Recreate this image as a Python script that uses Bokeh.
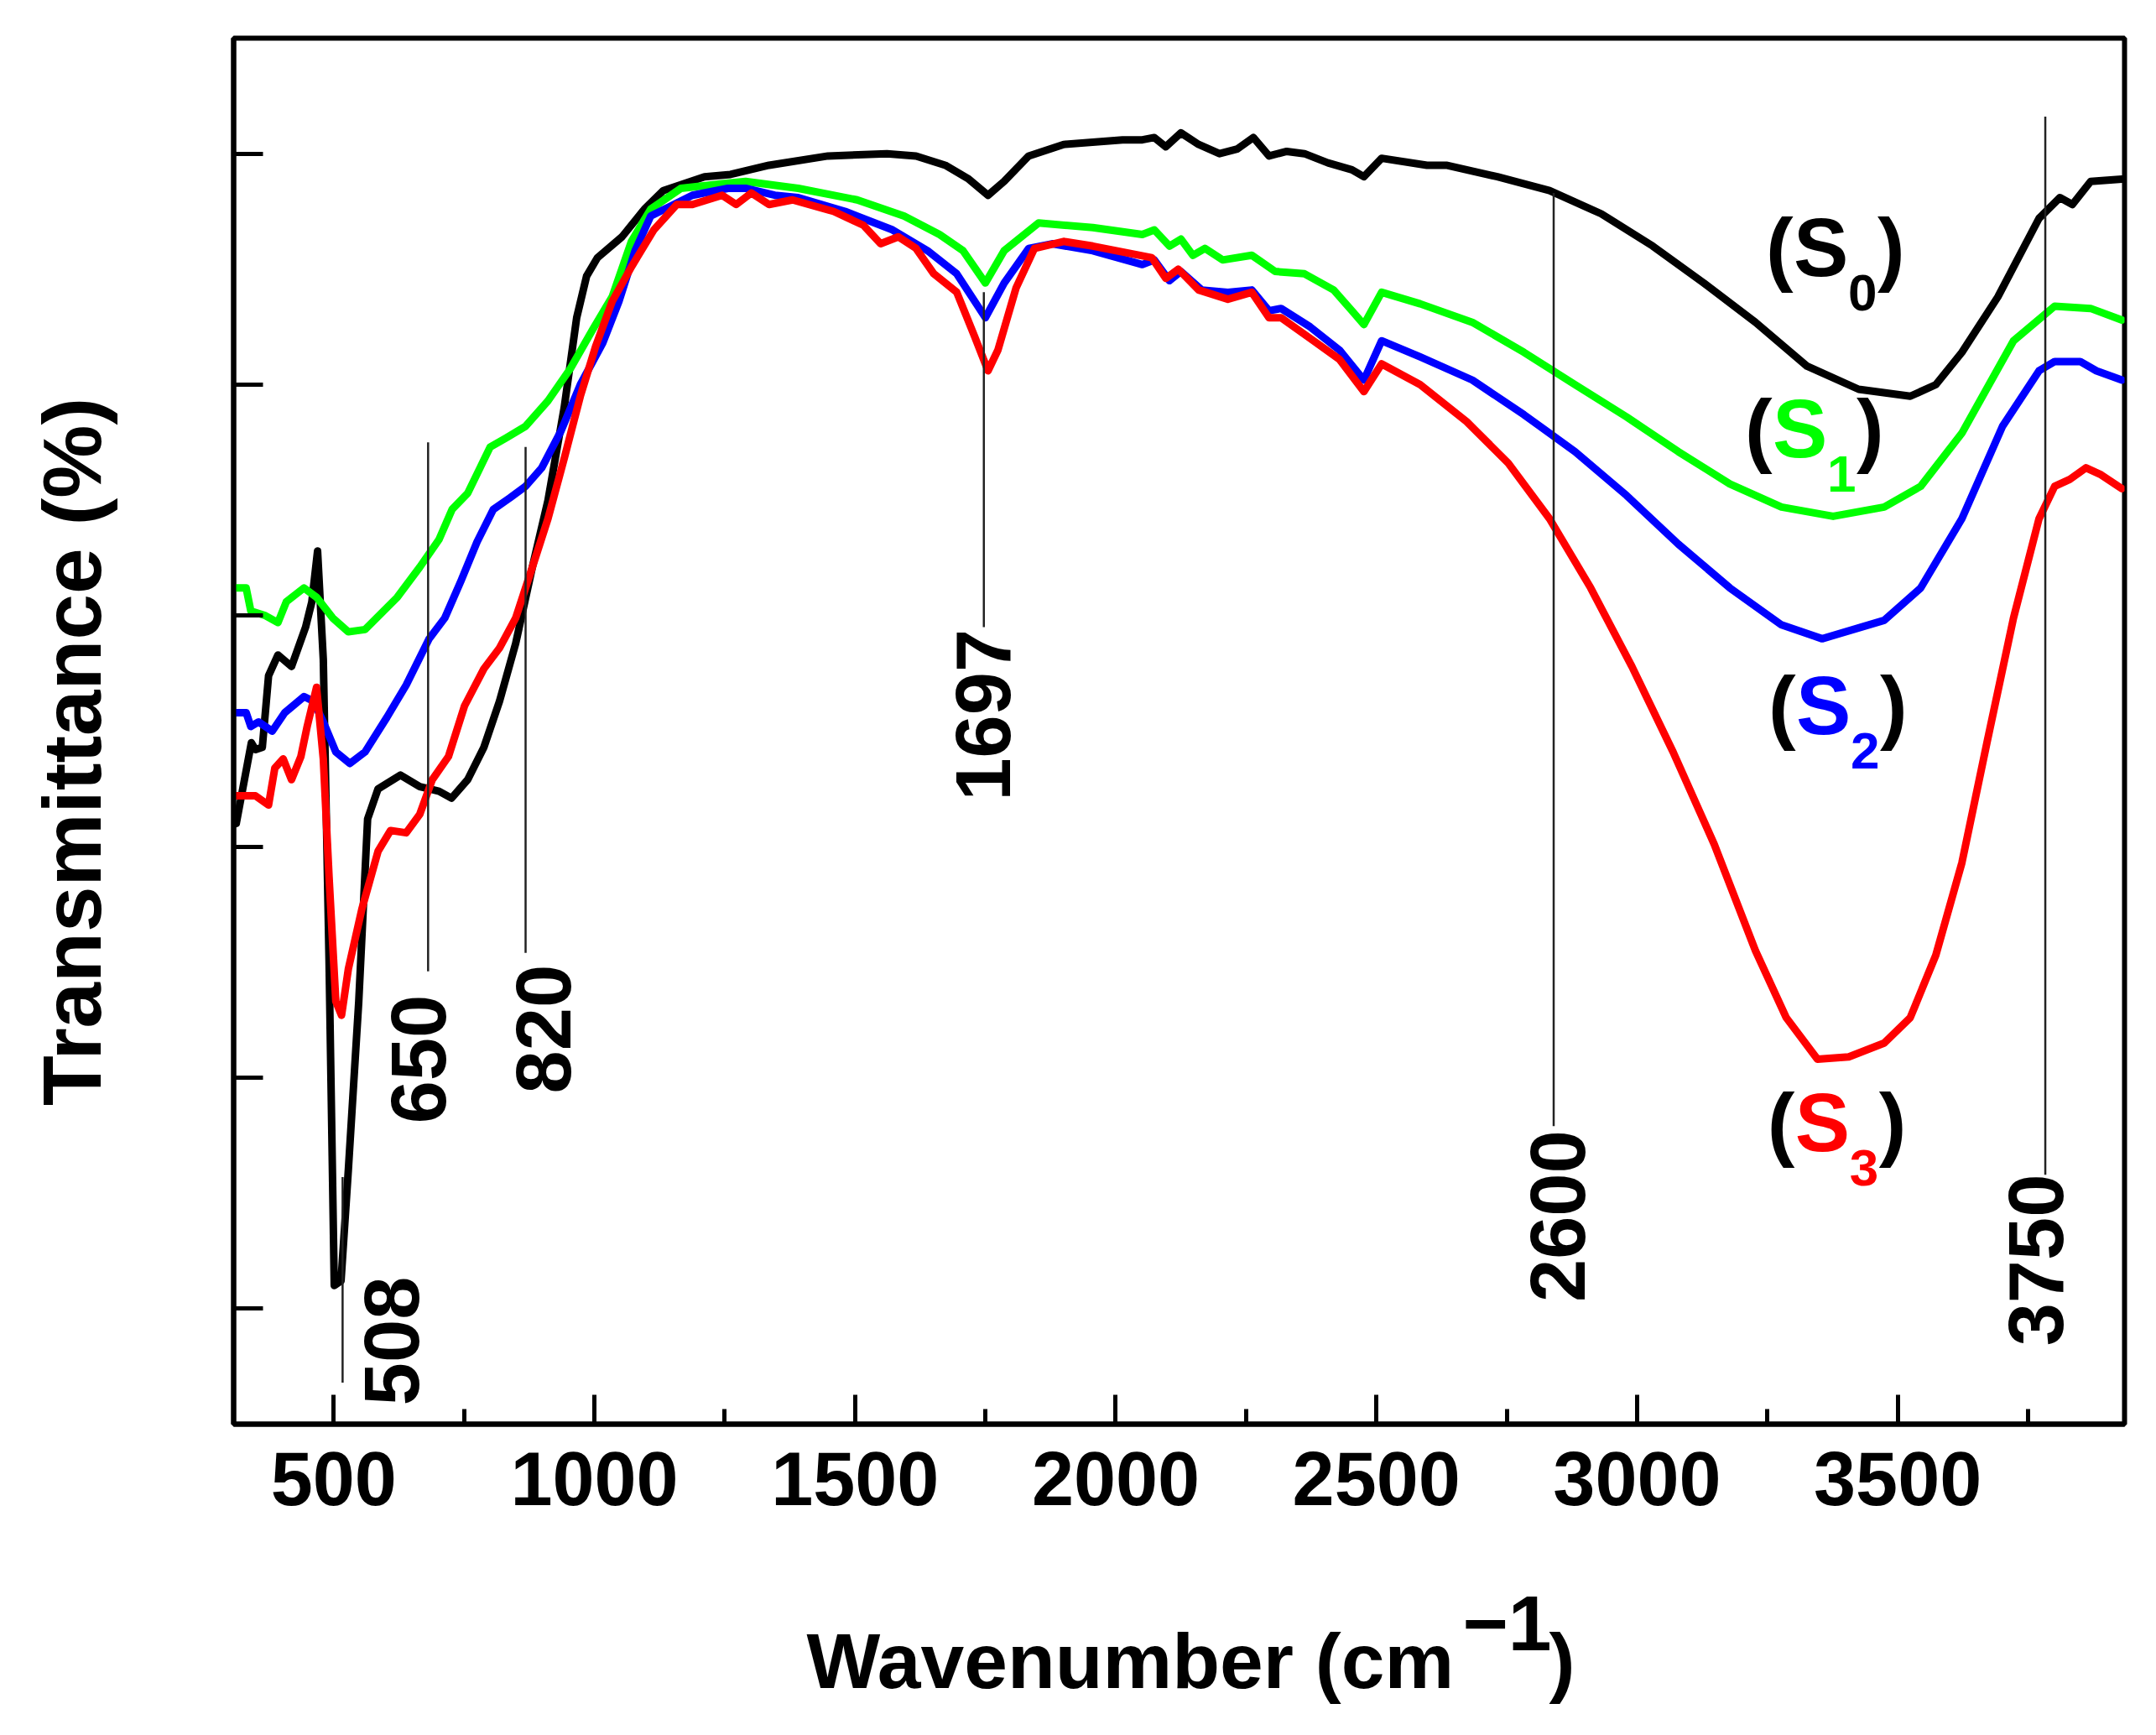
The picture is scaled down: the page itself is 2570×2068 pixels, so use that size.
import numpy as np

from bokeh.plotting import figure
from bokeh.layouts import column
from bokeh.models import Range1d, FixedTicker, ColumnDataSource
from bokeh.core.properties import value
from bokeh.embed import file_html
from bokeh.resources import INLINE

FONT = "Liberation Sans"

#- FTIR spectra (wavenumber in cm-1, transmittance in arbitrary units)
s0_wn = [313, 342, 350, 363, 375, 393, 419, 446, 458, 469, 480, 491, 501, 514, 528, 548,
         565, 585, 628, 665, 702, 726, 757, 788, 818, 849, 881, 911, 942, 966, 985, 1006,
         1053, 1096, 1132, 1211, 1261, 1335, 1448, 1561, 1617, 1673, 1718, 1755, 1786, 1833,
         1900, 2013, 2051, 2074, 2096, 2125, 2159, 2199, 2233, 2264, 2294, 2328, 2362, 2407,
         2453, 2476, 2510, 2597, 2634, 2732, 2832, 2931, 3030, 3128, 3227, 3326, 3425, 3524,
         3573, 3623, 3692, 3771, 3811, 3835, 3870, 3930]
s0_t = [3.10, 3.45, 3.42, 3.43, 3.74, 3.83, 3.78, 3.95, 4.06, 4.28, 3.81, 2.51, 1.10, 1.12, 1.60, 2.33,
        3.12, 3.25, 3.31, 3.26, 3.24, 3.21, 3.29, 3.43, 3.63, 3.88, 4.21, 4.50, 4.90, 5.29, 5.47, 5.55,
        5.64, 5.76, 5.84, 5.90, 5.91, 5.95, 5.99, 6.00, 5.99, 5.95, 5.89, 5.82, 5.88, 5.99,
        6.04, 6.06, 6.06, 6.07, 6.03, 6.09, 6.04, 6.00, 6.02, 6.07, 5.99, 6.01, 6.00, 5.96,
        5.93, 5.90, 5.98, 5.95, 5.95, 5.90, 5.84, 5.74, 5.60, 5.44, 5.27, 5.08, 4.98, 4.95,
        5.00, 5.14, 5.38, 5.72, 5.81, 5.78, 5.88, 5.89]

s1_wn = [311, 332, 341, 369, 393, 409, 443, 467, 498, 528, 560, 591, 622, 665, 702, 727,
         757, 800, 831, 868, 911, 954, 997, 1034, 1071, 1108, 1166, 1245, 1290, 1391, 1504, 1594,
         1662, 1707, 1750, 1786, 1852, 1956, 2051, 2074, 2103, 2125, 2148, 2171, 2205, 2261,
         2306, 2362, 2418, 2453, 2476, 2510, 2584, 2684, 2783, 2881, 2980, 3079, 3178, 3277,
         3376, 3474, 3544, 3623, 3722, 3801, 3870, 3930]
s1_t = [4.12, 4.12, 4.02, 4.00, 3.97, 4.06, 4.12, 4.08, 3.99, 3.93, 3.94, 4.01, 4.08, 4.21, 4.33, 4.46,
        4.53, 4.73, 4.77, 4.82, 4.93, 5.07, 5.24, 5.38, 5.62, 5.76, 5.85, 5.87, 5.88, 5.85, 5.80, 5.73,
        5.65, 5.58, 5.44, 5.58, 5.70, 5.68, 5.65, 5.67, 5.60, 5.63, 5.56, 5.59, 5.54, 5.56,
        5.49, 5.48, 5.41, 5.32, 5.26, 5.40, 5.35, 5.27, 5.14, 5.00, 4.86, 4.71, 4.57, 4.47,
        4.43, 4.47, 4.56, 4.79, 5.19, 5.34, 5.33, 5.28]

s2_wn = [311, 332, 341, 356, 382, 406, 443, 461, 480, 504, 531, 560, 602, 639, 683, 713,
         744, 775, 806, 838, 868, 899, 936, 973, 1016, 1047, 1078, 1108, 1188, 1256, 1290, 1346,
         1391, 1481, 1572, 1639, 1695, 1750, 1786, 1833, 1878, 1956, 2051, 2074, 2103, 2125,
         2165, 2215, 2261, 2294, 2317, 2373, 2429, 2476, 2510, 2584, 2684, 2783, 2881, 2980,
         3079, 3178, 3277, 3355, 3474, 3544, 3623, 3701, 3771, 3801, 3850, 3881, 3930]
s2_t = [3.58, 3.58, 3.52, 3.54, 3.50, 3.58, 3.65, 3.63, 3.54, 3.41, 3.36, 3.41, 3.56, 3.70, 3.90, 3.99,
        4.15, 4.32, 4.46, 4.51, 4.56, 4.64, 4.80, 5.00, 5.18, 5.36, 5.58, 5.73, 5.82, 5.85, 5.85, 5.82,
        5.81, 5.75, 5.67, 5.58, 5.48, 5.29, 5.44, 5.59, 5.61, 5.58, 5.52, 5.54, 5.45, 5.49,
        5.41, 5.40, 5.41, 5.32, 5.33, 5.25, 5.15, 5.02, 5.19, 5.12, 5.02, 4.87, 4.71, 4.52,
        4.31, 4.12, 3.96, 3.90, 3.98, 4.12, 4.42, 4.82, 5.06, 5.10, 5.10, 5.06, 5.02]

s3_wn = [311, 350, 375, 387, 403, 419, 437, 449, 467, 480, 491, 504, 515, 528, 554, 585,
         609, 639, 665, 689, 720, 751, 788, 818, 849, 881, 911, 942, 973, 1003, 1034, 1071,
         1114, 1158, 1188, 1245, 1272, 1301, 1335, 1380, 1459, 1516, 1549, 1583, 1617, 1651,
         1695, 1729, 1755, 1774, 1809, 1844, 1900, 1956, 2069, 2096, 2120, 2159, 2215, 2261,
         2294, 2317, 2373, 2429, 2476, 2510, 2584, 2673, 2753, 2832, 2911, 2990, 3069, 3148,
         3227, 3286, 3346, 3406, 3474, 3524, 3573, 3623, 3672, 3722, 3771, 3801, 3830, 3861,
         3890, 3930]
s3_t = [3.22, 3.22, 3.18, 3.34, 3.38, 3.29, 3.39, 3.52, 3.69, 3.38, 2.87, 2.33, 2.27, 2.47, 2.73, 2.98,
        3.07, 3.06, 3.14, 3.29, 3.39, 3.61, 3.77, 3.86, 3.99, 4.21, 4.42, 4.68, 4.95, 5.17, 5.36, 5.51,
        5.67, 5.78, 5.78, 5.82, 5.78, 5.83, 5.78, 5.80, 5.75, 5.69, 5.61, 5.64, 5.59, 5.48,
        5.40, 5.21, 5.06, 5.15, 5.42, 5.59, 5.62, 5.60, 5.55, 5.46, 5.50, 5.41, 5.37, 5.40,
        5.29, 5.29, 5.20, 5.11, 4.97, 5.09, 5.00, 4.84, 4.66, 4.42, 4.12, 3.78, 3.41, 3.01,
        2.55, 2.26, 2.08, 2.09, 2.15, 2.26, 2.53, 2.93, 3.46, 3.99, 4.42, 4.56, 4.59, 4.64,
        4.61, 4.55]

series_colors = ["#000000", "#00FF00", "#0000FF", "#FF0000"]

#- peak marker lines: label, line position, line start / end, label position
peak_labels = ["508", "650", "820", "1697", "2600", "3750"]
peak_line_x = [517, 681, 868, 1747, 2840, 3783]
peak_line_y0 = [0.68, 2.46, 2.54, 3.95, 1.79, 1.58]
peak_line_y1 = [1.57, 4.75, 4.73, 5.40, 5.83, 6.16]
peak_label_x = [611, 663, 902, 1745, 2848, 3765]
peak_label_y = [0.86, 2.08, 2.21, 3.57, 1.40, 1.21]

#- sample labels "(Sn)": left edge and baseline
sample_label_x = [3247, 3207, 3252, 3250]
sample_label_y = [5.457, 4.670, 3.471, 1.667]
sample_subscripts = ["0", "1", "2", "3"]

x_major = [500, 1000, 1500, 2000, 2500, 3000, 3500]
x_minor = [750, 1250, 1750, 2250, 2750, 3250, 3750]
y_major = [1, 2, 3, 4, 5, 6]

# the svg text sits this much (in em) below the asked alphabetic baseline, so lift it
LIFT = 0.39

W, H, H_LABEL = 2570, 1870, 198
FRAME_L, FRAME_R = 278, 2532
p = figure(width=W, height=H, output_backend="svg", toolbar_location=None,
           x_range=Range1d(308, 3935), y_range=Range1d(0.5, 6.5),
           min_border_left=FRAME_L, min_border_right=W - FRAME_R, min_border_top=45,
           min_border_bottom=173)
p.xgrid.visible = False
p.ygrid.visible = False
p.outline_line_color = "black"
p.outline_line_width = 6

p.xaxis.ticker = FixedTicker(ticks=x_major, minor_ticks=x_minor)
p.yaxis.ticker = FixedTicker(ticks=y_major, minor_ticks=[])
p.yaxis.major_label_overrides = {t: "" for t in y_major}
for ax in (p.xaxis, p.yaxis):
    ax.axis_line_width = 6
    ax.major_tick_line_width = 5
    ax.minor_tick_line_width = 5
    ax.major_tick_in = 35
    ax.major_tick_out = 0
    ax.minor_tick_in = 18
    ax.minor_tick_out = 0
p.xaxis.major_label_text_font = FONT
p.xaxis.major_label_text_font_style = "bold"
p.xaxis.major_label_text_font_size = "90px"
p.xaxis.major_label_text_color = "black"
p.xaxis.major_label_standoff = 33

#- y title through the axis; a trailing en space nudges its centre down a little
p.yaxis.major_label_standoff = 0
p.yaxis.axis_label = "Transmittance (%)\u2002"
p.yaxis.axis_label_text_font = FONT
p.yaxis.axis_label_text_font_style = "bold"
p.yaxis.axis_label_text_font_size = "98px"
p.yaxis.axis_label_text_color = "black"
p.yaxis.axis_label_standoff = 138

#- spectra
for wn, t, c in zip([s0_wn, s1_wn, s2_wn, s3_wn], [s0_t, s1_t, s2_t, s3_t], series_colors):
    p.line(wn, t, line_color=c, line_width=9, line_join="round", line_cap="round")

#- peak marker lines and their rotated labels
p.segment(x0=peak_line_x, y0=peak_line_y0, x1=peak_line_x, y1=peak_line_y1,
          line_color="#222222", line_width=2.5)
p.text(x=peak_label_x, y=peak_label_y, text=peak_labels, angle=np.pi/2,
       text_font=value(FONT), text_font_style="bold", text_font_size="92px",
       text_align="center", text_baseline="middle", text_color="black")

#- "(Sn)" labels built from pieces: parenthesis, S, subscript, parenthesis
rows = dict(x=[], y=[], text=[], color=[], size=[], dx=[], dy=[])
for sx, sy, sub, c in zip(sample_label_x, sample_label_y, sample_subscripts, series_colors):
    for txt, col, size, dx, dy in [("(", "black", 98, 0, 0),
                                   ("S", c, 98, 33, 0),
                                   (sub, c, 62, 98, 40),
                                   (")", "black", 98, 133, 0)]:
        rows["x"].append(sx)
        rows["y"].append(sy)
        rows["text"].append(txt)
        rows["color"].append(col)
        rows["size"].append("%dpx" % size)
        rows["dx"].append(dx)
        rows["dy"].append(dy - round(LIFT * size))
src = ColumnDataSource(rows)
p.text(x="x", y="y", text="text", text_color="color", text_font_size="size",
       x_offset="dx", y_offset="dy", text_font=value(FONT), text_font_style="bold",
       text_align="left", text_baseline="alphabetic", source=src)

#- x title strip below the chart, in page pixels, so the superscript can sit high
xtitle_text = ["Wavenumber (cm", "\u22121", ")"]
xtitle_x = [961, 1743, 1846]
xtitle_y = [2015, 1970, 2015]
q = figure(width=W, height=H_LABEL, output_backend="svg", toolbar_location=None,
           x_range=Range1d(FRAME_L, FRAME_R), y_range=Range1d(H + H_LABEL, H),
           x_axis_location=None, y_axis_location=None,
           min_border_left=0, min_border_right=0, min_border_top=0, min_border_bottom=0)
q.outline_line_color = None
q.grid.visible = False
q.text(x=xtitle_x, y=xtitle_y, text=xtitle_text, text_font=value(FONT), text_font_style="bold",
       text_font_size="93px", text_align="left", text_baseline="alphabetic", text_color="black",
       y_offset=-round(LIFT * 93))

layout = column(p, q, spacing=0)
open("out.html", "w").write(file_html(layout, INLINE))
